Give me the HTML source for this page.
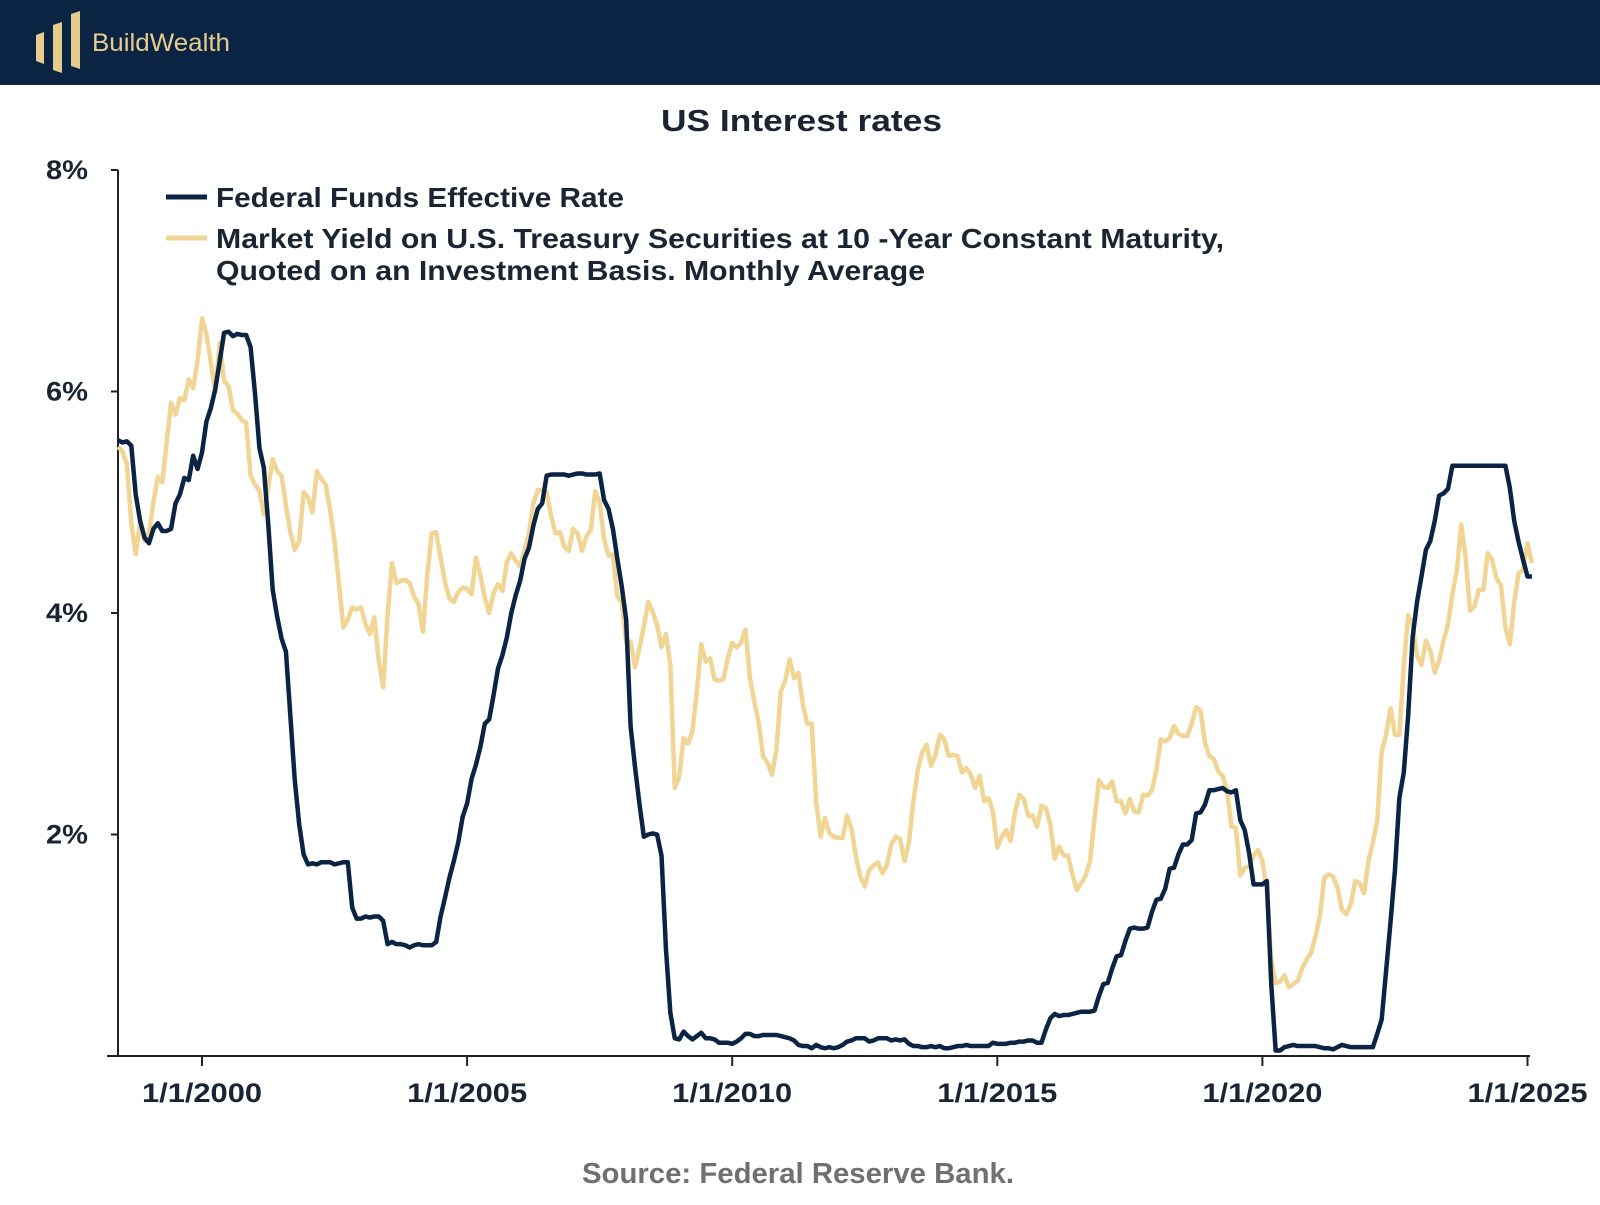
<!DOCTYPE html>
<html><head><meta charset="utf-8"><style>
body{margin:0;width:1600px;height:1200px;background:#fff;overflow:hidden;font-family:"Liberation Sans",sans-serif}
</style></head><body>
<svg id="c" width="1600" height="1200" viewBox="0 0 1600 1200" xmlns="http://www.w3.org/2000/svg">
<rect x="0" y="0" width="1600" height="85" fill="#0c2444"/>
<g>
<polygon points="36,35 44,32 44,64 36,61" fill="#e6cc8a"/>
<polygon points="53,25 62,22 62,73 53,70" fill="#e6cc8a"/>
<polygon points="71,14 80,11 80,69 71,66" fill="#e6cc8a"/>
<text x="92" y="51" font-size="25" fill="#e6cc8a" textLength="138" lengthAdjust="spacingAndGlyphs" font-family="Liberation Sans, sans-serif">BuildWealth</text>
</g>
<text x="661" y="131" font-size="31" font-weight="bold" fill="#1a2433" textLength="281" lengthAdjust="spacingAndGlyphs">US Interest rates</text>
<g id="axes"></g>
<g id="series"></g>
<g>
<line x1="166" y1="197" x2="207" y2="197" stroke="#0c2444" stroke-width="5"/>
<text x="216" y="207" font-size="28" font-weight="bold" fill="#1a2433" textLength="408" lengthAdjust="spacingAndGlyphs">Federal Funds Effective Rate</text>
<line x1="166" y1="238" x2="207" y2="238" stroke="#f0d595" stroke-width="5"/>
<text x="216" y="248" font-size="28" font-weight="bold" fill="#1a2433" textLength="1008" lengthAdjust="spacingAndGlyphs">Market Yield on U.S. Treasury Securities at 10 -Year Constant Maturity,</text>
<text x="216" y="280" font-size="28" font-weight="bold" fill="#1a2433" textLength="709" lengthAdjust="spacingAndGlyphs">Quoted on an Investment Basis. Monthly Average</text>
</g>
<text x="582" y="1183" font-size="29" font-weight="bold" fill="#707070" textLength="432" lengthAdjust="spacingAndGlyphs">Source: Federal Reserve Bank.</text>
</svg>
<script>
// monthly data from Jun 1998 to Feb 2025
const startYear = 1998, startMonth = 5;
const fedFunds = [5.56,5.54,5.55,5.51,5.07,4.83,4.68,
4.63,4.76,4.81,4.74,4.74,4.76,4.99,5.07,5.22,5.20,5.42,5.30,
5.45,5.73,5.85,6.02,6.27,6.53,6.54,6.50,6.52,6.51,6.51,6.40,
5.98,5.49,5.31,4.80,4.21,3.97,3.77,3.65,3.07,2.49,2.09,1.82,
1.73,1.74,1.73,1.75,1.75,1.75,1.73,1.74,1.75,1.75,1.34,1.24,
1.24,1.26,1.25,1.26,1.26,1.22,1.01,1.03,1.01,1.01,1.00,0.98,
1.00,1.01,1.00,1.00,1.00,1.03,1.26,1.43,1.61,1.76,1.93,2.16,
2.28,2.50,2.63,2.79,3.00,3.04,3.26,3.50,3.62,3.78,4.00,4.16,
4.29,4.49,4.59,4.79,4.94,4.99,5.24,5.25,5.25,5.25,5.25,5.24,
5.25,5.26,5.26,5.25,5.25,5.25,5.26,5.02,4.94,4.76,4.49,4.24,
3.94,2.98,2.61,2.28,1.98,2.00,2.01,2.00,1.81,0.97,0.39,0.16,
0.15,0.22,0.18,0.15,0.18,0.21,0.16,0.16,0.15,0.12,0.12,0.12,
0.11,0.13,0.16,0.20,0.20,0.18,0.18,0.19,0.19,0.19,0.19,0.18,
0.17,0.16,0.14,0.10,0.09,0.09,0.07,0.10,0.08,0.07,0.08,0.07,
0.08,0.10,0.13,0.14,0.16,0.16,0.16,0.13,0.14,0.16,0.16,0.16,
0.14,0.15,0.14,0.15,0.11,0.09,0.09,0.08,0.08,0.09,0.08,0.09,
0.07,0.07,0.08,0.09,0.09,0.10,0.09,0.09,0.09,0.09,0.09,0.12,
0.11,0.11,0.11,0.12,0.12,0.13,0.13,0.14,0.14,0.12,0.12,0.24,
0.34,0.38,0.36,0.37,0.37,0.38,0.39,0.40,0.40,0.40,0.41,0.54,
0.65,0.66,0.79,0.90,0.91,1.04,1.15,1.16,1.15,1.15,1.16,1.30,
1.41,1.42,1.51,1.69,1.70,1.82,1.91,1.91,1.95,2.19,2.20,2.27,
2.40,2.40,2.41,2.42,2.39,2.38,2.40,2.13,2.04,1.83,1.55,1.55,
1.55,1.58,0.65,0.05,0.05,0.08,0.09,0.10,0.09,0.09,0.09,0.09,
0.09,0.08,0.07,0.07,0.06,0.08,0.10,0.09,0.08,0.08,0.08,0.08,
0.08,0.08,0.20,0.33,0.77,1.21,1.68,2.33,2.56,3.08,3.78,4.10,
4.33,4.57,4.65,4.83,5.06,5.08,5.12,5.33,5.33,5.33,5.33,5.33,
5.33,5.33,5.33,5.33,5.33,5.33,5.33,5.33,5.13,4.83,4.64,4.48,
4.33,4.33];
const treasury10y = [5.50,5.46,5.34,4.81,4.53,4.83,4.65,
4.72,5.00,5.23,5.18,5.54,5.90,5.79,5.94,5.92,6.11,6.03,6.28,
6.66,6.52,6.26,5.99,6.44,6.10,6.05,5.83,5.80,5.74,5.72,5.24,
5.16,5.10,4.89,5.14,5.39,5.28,5.24,4.97,4.73,4.57,4.65,5.09,
5.04,4.91,5.28,5.21,5.16,4.93,4.65,4.26,3.87,3.94,4.05,4.03,
4.05,3.90,3.81,3.96,3.57,3.33,3.98,4.45,4.27,4.29,4.30,4.27,
4.15,4.08,3.83,4.35,4.72,4.73,4.50,4.28,4.13,4.10,4.19,4.23,
4.22,4.17,4.50,4.34,4.14,4.00,4.18,4.26,4.20,4.46,4.54,4.47,
4.42,4.57,4.72,4.99,5.11,5.11,5.09,4.88,4.72,4.73,4.60,4.56,
4.76,4.72,4.56,4.69,4.75,5.10,5.00,4.67,4.52,4.53,4.15,4.10,
3.74,3.74,3.51,3.68,3.88,4.10,4.01,3.89,3.69,3.81,3.53,2.42,
2.52,2.87,2.82,2.93,3.29,3.72,3.56,3.59,3.40,3.39,3.40,3.59,
3.73,3.69,3.73,3.85,3.42,3.20,3.01,2.70,2.65,2.54,2.76,3.29,
3.39,3.58,3.41,3.46,3.17,3.00,3.00,2.30,1.98,2.15,2.01,1.98,
1.97,1.97,2.17,2.05,1.80,1.62,1.53,1.68,1.72,1.75,1.65,1.72,
1.91,1.98,1.96,1.76,1.93,2.30,2.58,2.74,2.81,2.62,2.72,2.90,
2.86,2.71,2.72,2.71,2.56,2.60,2.54,2.42,2.53,2.30,2.33,2.21,
1.88,1.98,2.04,1.94,2.20,2.36,2.32,2.17,2.17,2.07,2.26,2.24,
2.09,1.78,1.89,1.81,1.81,1.64,1.50,1.56,1.63,1.76,2.14,2.49,
2.43,2.42,2.48,2.30,2.30,2.19,2.32,2.21,2.20,2.36,2.35,2.40,
2.58,2.86,2.84,2.87,2.98,2.91,2.89,2.89,3.00,3.15,3.12,2.83,
2.71,2.68,2.57,2.53,2.40,2.07,2.06,1.63,1.70,1.71,1.81,1.86,
1.76,1.50,0.87,0.66,0.67,0.73,0.62,0.65,0.68,0.79,0.87,0.93,
1.08,1.26,1.61,1.64,1.62,1.52,1.32,1.28,1.37,1.58,1.56,1.47,
1.76,1.93,2.13,2.75,2.90,3.14,2.90,2.90,3.52,3.98,3.89,3.62,
3.53,3.75,3.66,3.46,3.57,3.75,3.90,4.17,4.38,4.80,4.50,4.02,
4.06,4.21,4.21,4.54,4.48,4.31,4.25,3.87,3.72,4.10,4.36,4.39,
4.63,4.45];
const yTicks = [0,2,4,6,8];
const yTickLabels = ["","2%","4%","6%","8%"];
const xTickYears = [2000,2005,2010,2015,2020,2025];
const xTickLabels = ["1/1/2000","1/1/2005","1/1/2010","1/1/2015","1/1/2020","1/1/2025"];

const NS = "http://www.w3.org/2000/svg";
const X0 = 202, PX_PER_MONTH = (1527.5-202)/300;
function xMonth(i){ return X0 + ((startYear-2000)*12 + startMonth + i) * PX_PER_MONTH; }
function xYear(y){ return X0 + (y-2000)*12*PX_PER_MONTH; }
function yVal(v){ return 1056 - v*110.75; }
function mk(tag, attrs, parent){ const e=document.createElementNS(NS,tag); for(const k in attrs) e.setAttribute(k,attrs[k]); parent.appendChild(e); return e; }

const axes = document.getElementById('axes');
const xl = mk('line',{x1:107,y1:1056,x2:1530,y2:1056,stroke:'#222','stroke-width':2},axes);


const yl = mk('line',{x1:118,y1:170,x2:118,y2:1056,stroke:'#222','stroke-width':2},axes);


yTicks.forEach((v,i)=>{
  const t = mk('line',{x1:111,y1:yVal(v),x2:118,y2:yVal(v),stroke:'#222','stroke-width':2},axes);
  
  
  if(yTickLabels[i]){
    const l = mk('text',{x:46,y:yVal(v)+9,'font-size':27,'font-weight':'bold',fill:'#1a2433',textLength:42,lengthAdjust:'spacingAndGlyphs'},axes);
    l.textContent = yTickLabels[i];
    
    
  }
});
xTickYears.forEach((y,i)=>{
  const t = mk('line',{x1:xYear(y),y1:1056,x2:xYear(y),y2:1066,stroke:'#222','stroke-width':2},axes);
  
  
  const l = mk('text',{x:xYear(y)-60,y:1102,'font-size':27,'font-weight':'bold',fill:'#1a2433',textLength:120,lengthAdjust:'spacingAndGlyphs'},axes);
  l.textContent = xTickLabels[i];
  
  
});

const series = document.getElementById('series');
function pathFor(arr){ return arr.map((v,i)=>(i?'L':'M')+xMonth(i).toFixed(2)+' '+yVal(v).toFixed(2)).join(''); }
const p2 = mk('path',{d:pathFor(treasury10y),fill:'none',stroke:'#f0d595','stroke-width':4.5,'stroke-linejoin':'round'},series);


const p1 = mk('path',{d:pathFor(fedFunds),fill:'none',stroke:'#0c2444','stroke-width':4.5,'stroke-linejoin':'round'},series);


</script>
</body></html>
